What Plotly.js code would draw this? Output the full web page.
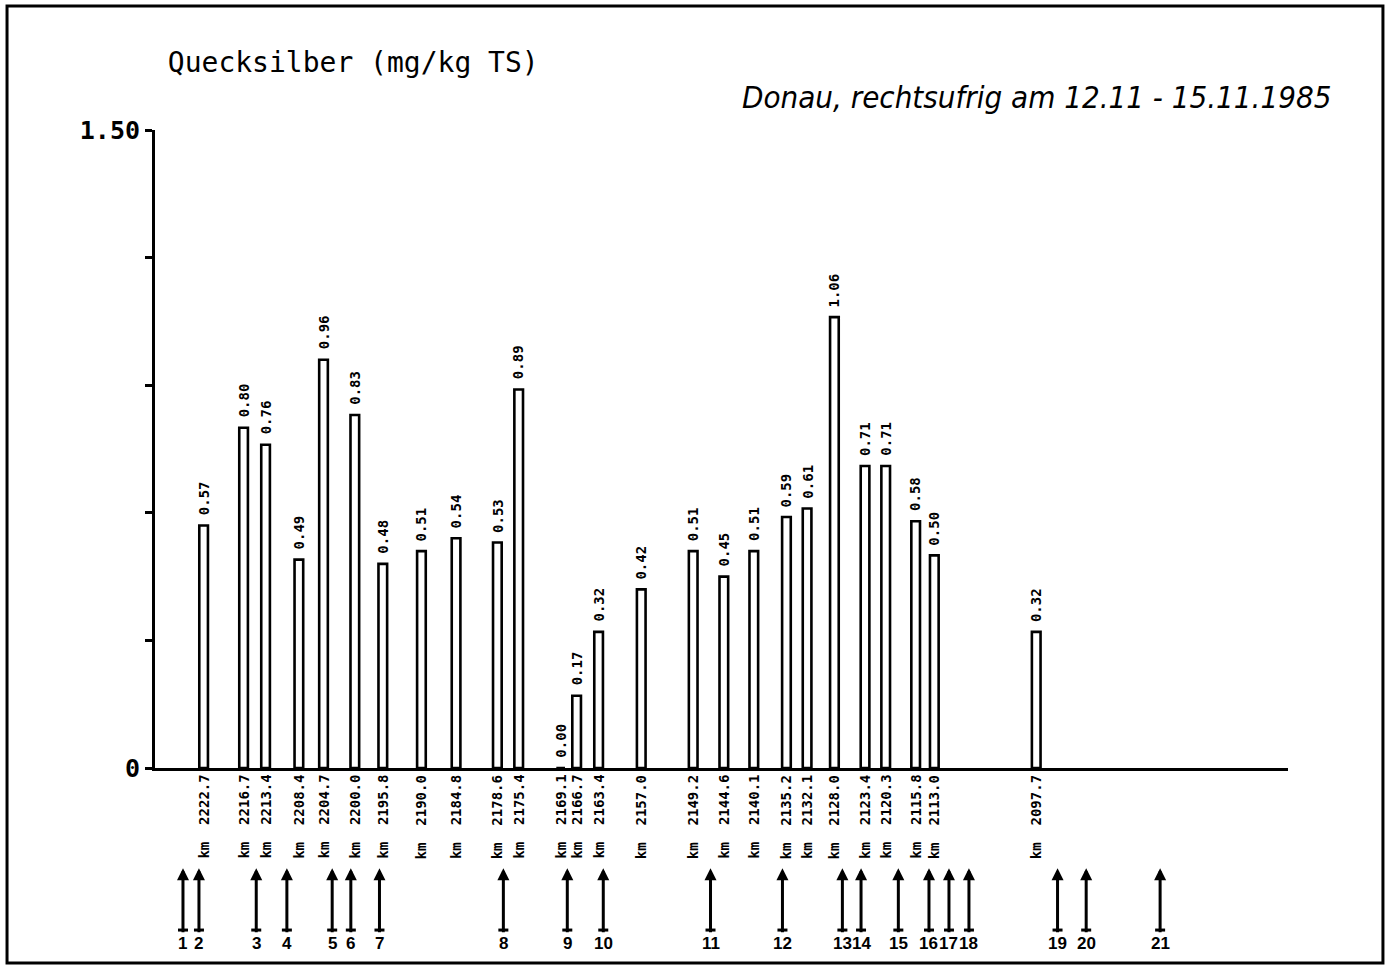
<!DOCTYPE html>
<html>
<head>
<meta charset="utf-8">
<script src="https://cdn.plot.ly/plotly-3.0.1.min.js"></script>
<style>html,body{margin:0;padding:0;background:#fff;}#chart{width:1387px;height:965px;}</style>
</head>
<body>
<div id="chart"></div>
<script>
// River kilometre of each sample (bar positions)
const sampleKm = [2222.7, 2216.7, 2213.4, 2208.4, 2204.7, 2200.0, 2195.8, 2190.0, 2184.8, 2178.6, 2175.4,
                  2169.1, 2166.7, 2163.4, 2157.0, 2149.2, 2144.6, 2140.1, 2135.2, 2132.1, 2128.0, 2123.4,
                  2120.3, 2115.8, 2113.0, 2097.7];
// Mercury content (mg/kg TS)
const mercury = [0.57, 0.80, 0.76, 0.49, 0.96, 0.83, 0.48, 0.51, 0.54, 0.53, 0.89,
                 0.00, 0.17, 0.32, 0.42, 0.51, 0.45, 0.51, 0.59, 0.61, 1.06, 0.71,
                 0.71, 0.58, 0.50, 0.32];
// Numbered reference points (arrows below the axis)
const stationNr = [1, 2, 3, 4, 5, 6, 7, 8, 9, 10, 11, 12, 13, 14, 15, 16, 17, 18, 19, 20, 21];
const stationKm = [2225.8, 2223.4, 2214.8, 2210.2, 2203.4, 2200.6, 2196.3, 2177.7, 2168.1, 2162.7, 2146.6,
                   2135.8, 2126.8, 2124.0, 2118.4, 2113.8, 2110.8, 2107.8, 2094.5, 2090.2, 2079.1];
// Axis ticks
const yTickVals = [0, 0.3, 0.6, 0.9, 1.2, 1.5];
const yTickText = ['0', '', '', '', '', '1.50'];

const titleText = 'Quecksilber (mg/kg TS)';
const subtitleText = 'Donau, rechtsufrig am 12.11 - 15.11.1985';

const mono = 'DejaVu Sans Mono, Liberation Mono, monospace';
const narrow = 'Liberation Sans Narrow, DejaVu Sans Condensed, Arial Narrow, sans-serif';
const numFont = 'Liberation Sans Narrow, Liberation Sans, Arial, sans-serif';

const traces = [{
  type: 'bar',
  x: sampleKm,
  y: mercury,
  width: 1.3,
  marker: {color: '#ffffff', line: {color: '#000000', width: 2.6}},
  hoverinfo: 'x+y',
  cliponaxis: false
}];

const annotations = [];
const shapes = [];

// value labels above bars
sampleKm.forEach((k, i) => {
  annotations.push({
    x: k, y: mercury[i], xref: 'x', yref: 'y',
    text: mercury[i].toFixed(2), textangle: -90,
    showarrow: false, xanchor: 'center', yanchor: 'bottom', yshift: 8,
    font: {family: mono, size: 14, color: '#000', weight: 'bold'}
  });
  // km labels below axis
  annotations.push({
    x: k, y: 0, xref: 'x', yref: 'y',
    text: 'km  ' + k.toFixed(1), textangle: -90,
    showarrow: false, xanchor: 'center', yanchor: 'top', yshift: -5,
    font: {family: mono, size: 14, color: '#000', weight: 'bold'}
  });
});

// numbered arrows
stationKm.forEach((k, i) => {
  annotations.push({
    x: k, y: -0.157, xref: 'x', yref: 'paper',
    text: String(stationNr[i]),
    showarrow: true, arrowhead: 2, arrowsize: 0.8, arrowwidth: 3, arrowcolor: '#000',
    ax: 0, ay: 75, standoff: 0, startstandoff: 0,
    font: {family: numFont, size: 17, color: '#000', weight: 'bold'}
  });
  shapes.push({
    type: 'line', xref: 'x', yref: 'paper', xsizemode: 'pixel', xanchor: k,
    x0: -5, x1: 5, y0: -0.254, y1: -0.254,
    line: {color: '#000', width: 3}
  });
});

// subtitle
annotations.push({
  x: 1.0397, y: 1.0517, xref: 'paper', yref: 'paper',
  text: '<i>' + subtitleText + '</i>',
  showarrow: false, xanchor: 'right', yanchor: 'middle',
  font: {family: narrow, size: 31, color: '#000'}
});

// outer frame
shapes.push({
  type: 'rect', xref: 'paper', yref: 'paper',
  x0: -0.1306, x1: 1.0838, y0: -0.3056, y1: 1.1944,
  line: {color: '#000', width: 3}, fillcolor: 'rgba(0,0,0,0)', layer: 'above'
});

const layout = {
  width: 1387, height: 965,
  paper_bgcolor: '#ffffff', plot_bgcolor: '#ffffff',
  margin: {l: 155, r: 99, t: 130, b: 197},
  showlegend: false,
  title: {
    text: titleText, xref: 'container', yref: 'container',
    x: 0.121, xanchor: 'left', y: 0.936, yanchor: 'middle',
    font: {family: mono, size: 28, color: '#000'}
  },
  xaxis: {
    range: [2230.0, 2059.9], showgrid: false, zeroline: false,
    showticklabels: false, ticks: '', showline: true, linecolor: '#000', linewidth: 3
  },
  yaxis: {
    range: [0, 1.5], showgrid: false, zeroline: false,
    tickmode: 'array', tickvals: yTickVals, ticktext: yTickText,
    ticks: 'outside', ticklen: 7, tickwidth: 3, tickcolor: '#000',
    showline: true, linecolor: '#000', linewidth: 3,
    tickfont: {family: mono, size: 25, color: '#000', weight: 'bold'}
  },
  annotations: annotations,
  shapes: shapes
};

Plotly.newPlot('chart', traces, layout, {displayModeBar: false, staticPlot: true});
</script>
</body>
</html>
